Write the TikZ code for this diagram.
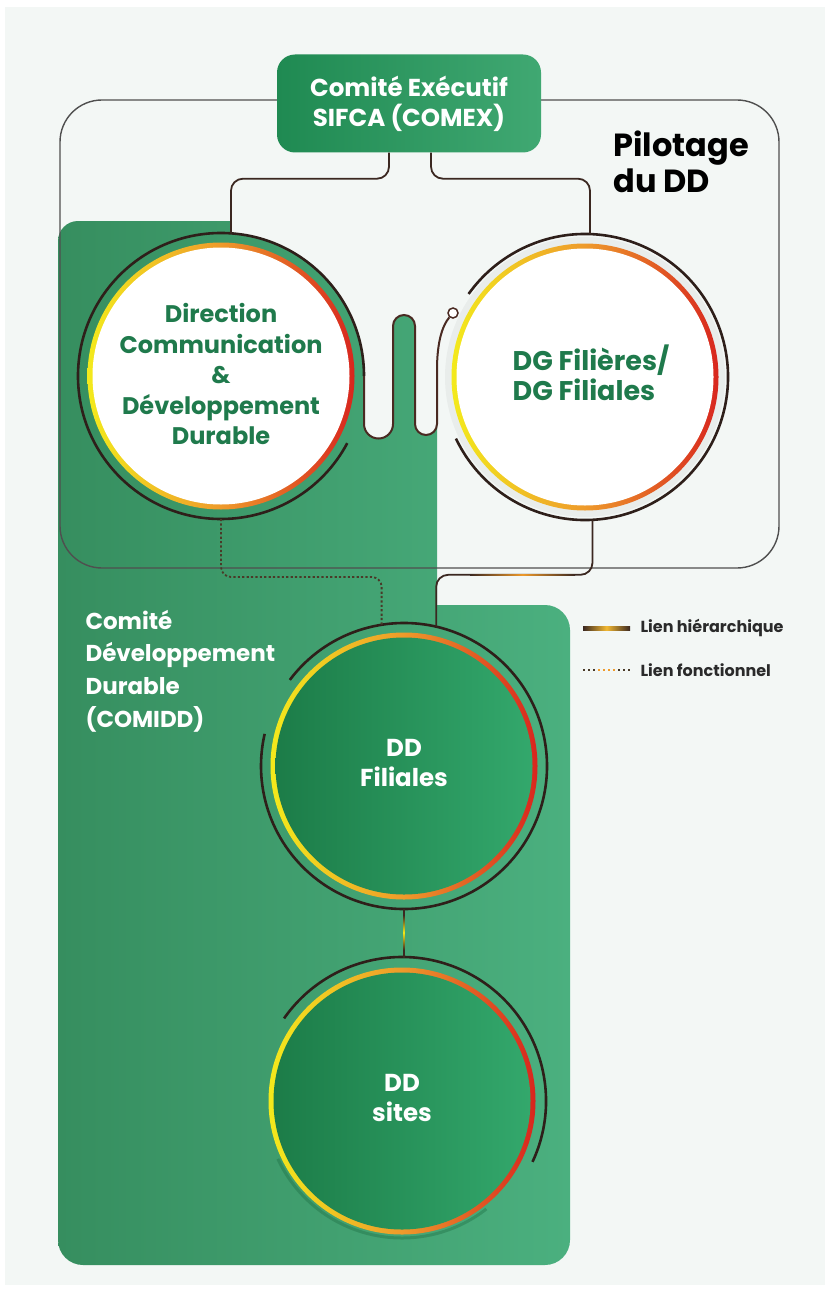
\documentclass[tikz,border=0pt]{standalone}
\usepackage{fontspec}
\setmainfont{Poppins}
\definecolor{bgc}{HTML}{F3F7F5}
\definecolor{gA}{HTML}{368E5F}
\definecolor{gB}{HTML}{4BB07F}
\definecolor{dA}{HTML}{1C7C48}
\definecolor{dB}{HTML}{33A86C}
\definecolor{cxA}{HTML}{1F8A52}
\definecolor{cxB}{HTML}{40A872}
\definecolor{tgreen}{HTML}{1F7A4C}
\definecolor{ry}{HTML}{F3EA1C}
\definecolor{ro}{HTML}{EE9A2B}
\definecolor{rr}{HTML}{D8261E}
\definecolor{hierc}{HTML}{3B2821}
\definecolor{wavec}{HTML}{4A2A22}
\definecolor{ringc}{HTML}{2E1F1A}
\definecolor{framec}{HTML}{4F4F4F}
\definecolor{funcc}{HTML}{4A3A28}
\definecolor{legc}{HTML}{2A2A2A}
\definecolor{shadc}{HTML}{1E6E44}
\definecolor{legm}{HTML}{F2B832}
\begin{document}
\begin{tikzpicture}[x=1pt,y=-1pt,
  circ/.style={circle, minimum size=286pt, inner sep=0pt, outer sep=0pt},
  hier/.style={draw=hierc, line width=1.8pt, rounded corners=12pt},
  func/.style={draw=funcc, line width=1.8pt, dash pattern=on 2.2pt off 2.2pt, rounded corners=10pt},
  darkring/.style={draw=ringc, line width=2.6pt},
  gradring/.style={left color=ry, right color=rr, middle color=ro},
  circtext/.style={align=center, font=\fontsize{24}{30.5}\selectfont\bfseries},
  legtext/.style={anchor=west, text=legc, font=\fontsize{16}{18}\selectfont\bfseries}]
\useasboundingbox (0,0) rectangle (830,1292);
\fill[white] (0,0) rectangle (830,1292);
\fill[bgc] (5,7) rectangle (825,1285);

% circle anchors
\node[circ] (dcdd) at (221,376) {};
\node[circ] (dg) at (585,377) {};
\node[circ] (ddf) at (404,766) {};
\node[circ] (dds) at (402,1101) {};

% green area
\shade[left color=gA, right color=gB]
  (58,1240) -- (58,241) arc[start angle=180, end angle=270, radius=20]
  -- (230,221) -- (230,233.3) arc[start angle=-86.4, end angle=0, radius=143]
  -- (364,424) arc[start angle=180, end angle=0, radius=14.5]
  -- (393,326) arc[start angle=180, end angle=360, radius=11]
  -- (415,424) arc[start angle=180, end angle=0, radius=11]
  -- (437,605) -- (545,605) arc[start angle=270, end angle=360, radius=25]
  -- (570,1240) arc[start angle=0, end angle=90, radius=25]
  -- (83,1265) arc[start angle=90, end angle=180, radius=25] -- cycle;

% frame Pilotage
\draw[framec, line width=1.4pt, rounded corners=42pt] (60,100) rectangle (779,568);

% DG circle
\fill[black, opacity=0.04] (dg.center) circle[radius=140];
\shade[gradring] (dg.center) circle[radius=133.5];
\fill[white] (dg.center) circle[radius=128.5];
\draw[darkring] ([shift={(154.5:143)}]dg.center) arc[start angle=154.5, end angle=-144.5, radius=143];

% Direction circle
\draw[darkring] (dcdd.east) arc[start angle=0, end angle=-332, radius=143];
\shade[gradring] (dcdd.center) circle[radius=133.5];
\fill[white] (dcdd.center) circle[radius=128.5];

% DD Filiales
\draw[darkring] ([shift={(217:143)}]ddf.center) arc[start angle=217, end angle=553, radius=143];
\shade[gradring] (ddf.center) circle[radius=133.5];
\shade[left color=dA, right color=dB] (ddf.center) circle[radius=128.5];

% DD sites
\draw[darkring] ([shift={(25:144)}]dds.center) arc[start angle=25, end angle=-145, radius=144];
\draw[draw=shadc, opacity=0.4, line width=3pt] ([shift={(155:137)}]dds.center) arc[start angle=155, end angle=52, radius=137];
\shade[gradring] (dds.center) circle[radius=133.5];
\shade[left color=dA, right color=dB] (dds.center) circle[radius=128.5];

% small knob and wavy line
\node[circle, draw=wavec, fill=white, line width=1.5pt, minimum size=10pt, inner sep=0pt] (sm) at (453,313) {};
\draw[wavec, line width=2pt] (dcdd.east) -- (364,424) arc[start angle=180, end angle=0, radius=14.5]
  -- (393,326) arc[start angle=180, end angle=360, radius=11]
  -- (415,424) arc[start angle=180, end angle=0, radius=11]
  -- (437,370) .. controls (437,343) and (442,326) .. (sm);

% COMEX box
\node[rounded corners=18pt, minimum width=264pt, minimum height=98pt, left color=cxA, right color=cxB,
  text=white, align=center, font=\fontsize{24.5}{30}\selectfont\bfseries] (comex) at (409,103.5)
  {Comité Exécutif\\SIFCA (COMEX)};

% hierarchical links
\draw[hier] ([xshift=-20pt]comex.south) -- ++(0,26) -| (dcdd.86);
\draw[hier] ([xshift=22pt]comex.south) -- ++(0,26) -| (dg.88.8);
\draw[hier] (dg.-87.2) -- ++(0,55) -| (ddf.77.1);
\shade[left color=hierc, right color=hierc, middle color=ro] (470,574) rectangle (575,575.8);
\draw[hier] (ddf.south) -- (ddf.south |- dds.north);
\shade[top color=hierc, bottom color=hierc, middle color=ry] (403.1,915) rectangle (404.9,950);

% functional link
\draw[func] (dcdd.south) -- ++(0,58) -| (ddf.99.7);

% texts
\node[circtext, text=tgreen] (tdcdd) at ([yshift=2pt]dcdd.center) {Direction\\Communication\\\&\\Développement\\Durable};
\node[circtext, text=tgreen, align=left, font=\fontsize{27}{30}\selectfont\bfseries] (tdg) at ([xshift=6pt,yshift=4pt]dg.center) {DG Filières/\\DG Filiales};
\node[circtext, text=white, font=\fontsize{24.5}{30.5}\selectfont\bfseries] (tddf) at ([yshift=3pt]ddf.center) {DD\\Filiales};
\node[circtext, text=white, font=\fontsize{24.5}{30.5}\selectfont\bfseries] (tdds) at ([yshift=3pt]dds.center) {DD\\sites};
\node[anchor=west, align=left, text=white, font=\fontsize{23}{32.7}\selectfont\bfseries] (comidd) at (82,671)
  {Comité\\Développement\\Durable\\(COMIDD)};
\node[anchor=west, align=left, text=black, font=\fontsize{32}{36}\selectfont\bfseries] (pilot) at (610,162)
  {Pilotage\\du DD};

% legend
\shade[left color=hierc, right color=hierc, middle color=legm] (583,626.5) rectangle (630,630.5);
\node[legtext] (l1) at (637,628) {Lien hiérarchique};
\draw[funcc, line width=2.2pt, dash pattern=on 2.2pt off 2.8pt] (583,670) -- (630,670);
\draw[ro, line width=2.2pt, dash pattern=on 2.2pt off 2.8pt, dash phase=-15pt] (598,670) -- (615,670);
\node[legtext] (l2) at (637,670) {Lien fonctionnel};
\end{tikzpicture}
\end{document}
